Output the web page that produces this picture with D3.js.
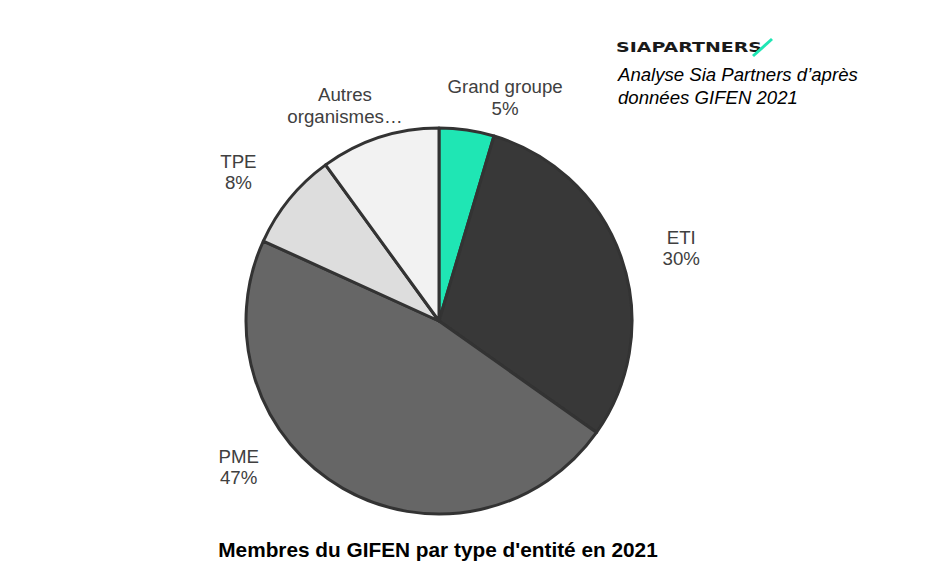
<!DOCTYPE html>
<html><head><meta charset="utf-8">
<script src="https://cdn.jsdelivr.net/npm/d3@7"></script>
<style>
html,body{margin:0;padding:0;background:#fff;}
svg{display:block;font-family:"Liberation Sans",Arial,sans-serif;}
</style></head>
<body><svg id="c" width="934" height="588"></svg>
<script>
const categories = ["Grand groupe", "ETI", "PME", "TPE", "Autres organismes…"];
const values = [4.6, 30.2, 47.0, 8.2, 10.0];
const pctLabels = ["5%", "30%", "47%", "8%", ""];
const colors = ["#1fe6b4", "#383838", "#666666", "#dddddd", "#f2f2f2"];

const svg = d3.select("#c");
const cx = 439, cy = 321, r = 193;
const g = svg.append("g").attr("transform", `translate(${cx},${cy})`);
const pie = d3.pie().sort(null).value(d => d)(values);
const arc = d3.arc().innerRadius(0).outerRadius(r);
g.selectAll("path").data(pie).join("path")
  .attr("d", arc).attr("fill", (d,i) => colors[i])
  .attr("stroke", "#333333").attr("stroke-width", 3).attr("stroke-linejoin", "round");

// labels (best-fit placement around the pie)
const nudge = [8.2, 2.3, 24, -2.6, -5.6];
const labelR = [233, 253, 248, 250, 235];
pie.forEach((d, i) => {
  const a = (d.startAngle + d.endAngle) / 2 + nudge[i] * Math.PI / 180;
  const x = labelR[i] * Math.sin(a), y = -labelR[i] * Math.cos(a);
  const t = g.append("text").attr("text-anchor", "middle")
    .attr("font-size", 18.7).attr("fill", "#404040");
  const lines = i === 4 ? ["Autres", "organismes…"] : [categories[i], pctLabels[i]];
  lines.forEach((s, k) => t.append("tspan").attr("x", x).attr("y", y + (k - 0.5) * 21.5 + 6.5).text(s));
});

// title
svg.append("text").attr("x", 438).attr("y", 557).attr("text-anchor", "middle")
  .attr("font-size", 20.8).attr("font-weight", "bold").attr("fill", "#000")
  .text("Membres du GIFEN par type d'entité en 2021");

// logo
svg.append("text").attr("x", 616).attr("y", 51.5).attr("font-size", 13.5).attr("font-weight", "bold")
  .attr("font-family", "'DejaVu Sans',sans-serif")
  .attr("fill", "#1a1a1a").attr("textLength", 146).attr("lengthAdjust", "spacingAndGlyphs").text("SIAPARTNERS");
svg.append("path").attr("d", "M753,56 L772,39").attr("stroke", "#1fe6b4").attr("stroke-width", 3);

const src = svg.append("text").attr("font-size", 18.6).attr("font-style", "italic").attr("fill", "#000");
src.append("tspan").attr("x", 618).attr("y", 81).text("Analyse Sia Partners d’après");
src.append("tspan").attr("x", 618).attr("y", 104).text("données GIFEN 2021");
</script></body></html>
